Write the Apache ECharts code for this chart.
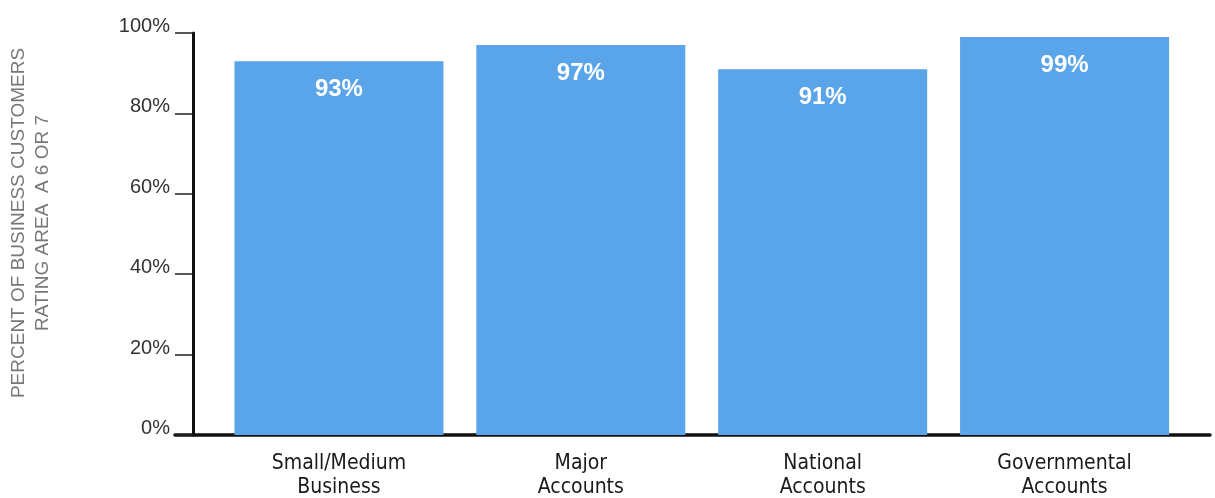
<!DOCTYPE html>
<html>
<head>
<meta charset="utf-8">
<script src="https://cdn.jsdelivr.net/npm/echarts@6/dist/echarts.min.js"></script>
<style>html,body{margin:0;padding:0;background:#fff}#c{width:1215px;height:498px}</style>
</head>
<body>
<div id="c"></div>
<script>
var categories = ['Small/Medium\nBusiness', 'Major\nAccounts', 'National\nAccounts', 'Governmental\nAccounts'];
var values = [93, 97, 91, 99];
var yTicks = [0, 20, 40, 60, 80, 100];
var yTitle = 'PERCENT OF BUSINESS CUSTOMERS\nRATING AREA  A 6 OR 7';

var chart = echarts.init(document.getElementById('c'));
chart.setOption({
  animation: false,
  grid: [
    {left: 218, right: 29.5, top: 33, bottom: 63, containLabel: false, outerBoundsMode: 'none'},
    {left: 175, right: 5, top: 33, bottom: 63, containLabel: false, outerBoundsMode: 'none'}
  ],
  graphic: [{
    type: 'text', x: 31, y: 223, rotation: Math.PI / 2,
    style: {
      text: yTitle, fill: '#777', fontSize: 19, lineHeight: 24,
      fontFamily: '"Liberation Sans", Arial, sans-serif',
      align: 'center', verticalAlign: 'middle'
    }
  }],
  xAxis: [
    {
      type: 'category', gridIndex: 0, data: categories,
      axisLine: {show: false}, axisTick: {show: false},
      axisLabel: {
        margin: 17, color: '#1a1a1a', fontSize: 21, lineHeight: 24,
        fontFamily: '"Liberation Sans Narrow", "DejaVu Sans Condensed", sans-serif'
      }
    },
    {
      type: 'value', gridIndex: 1, min: 0, max: 1,
      axisLine: {show: true, lineStyle: {color: '#111', width: 3.5}},
      axisTick: {show: false}, axisLabel: {show: false}, splitLine: {show: false}
    }
  ],
  yAxis: [
    {
      type: 'value', gridIndex: 0, min: yTicks[0], max: yTicks[yTicks.length - 1], interval: 20,
      offset: 25,
      axisLine: {show: true, lineStyle: {color: '#111', width: 3}},
      axisTick: {show: true, length: 18, lineStyle: {color: '#222', width: 1.5}},
      splitLine: {show: false},
      axisLabel: {
        margin: 23, color: '#333', fontSize: 20, verticalAlign: 'bottom', lineHeight: 13,
        fontFamily: '"Liberation Sans", Arial, sans-serif',
        formatter: function (v) { return v + '%'; }
      }
    },
    {
      type: 'value', gridIndex: 1, show: false, min: 0, max: 1
    }
  ],
  series: [{
    type: 'bar', xAxisIndex: 0, yAxisIndex: 0, data: values, barWidth: 209,
    itemStyle: {color: '#5aa4ea'},
    label: {
      show: true, position: 'insideTop', distance: 16,
      color: '#fff', fontWeight: 'bold', fontSize: 24,
      fontFamily: '"Liberation Sans", Arial, sans-serif',
      formatter: function (p) { return p.value + '%'; }
    }
  }]
});
</script>
</body>
</html>
